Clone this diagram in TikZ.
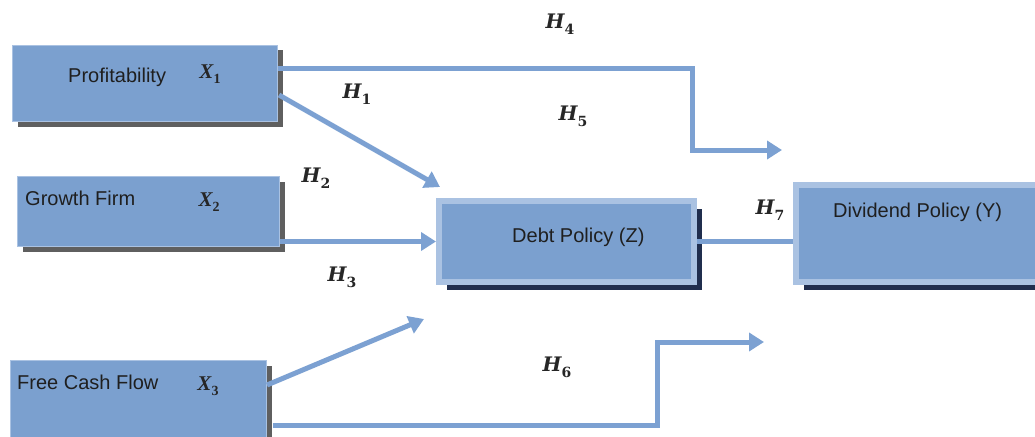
\documentclass[tikz,border=0pt]{standalone}
\usepackage{fontspec}
\setmainfont{Liberation Sans}
\newfontfamily\hypfont{DejaVu Serif}
\newfontfamily\varfont{Liberation Serif}
\usetikzlibrary{arrows.meta,shadows,calc}
\definecolor{boxblue}{RGB}{123,160,207}
\definecolor{rimblue}{RGB}{170,194,226}
\definecolor{arrowblue}{RGB}{124,161,210}
\definecolor{shadowgray}{RGB}{95,95,95}
\definecolor{shadownavy}{RGB}{32,46,78}
\newcommand\hypname[1]{{\hypfont\bfseries\itshape\fontsize{20}{22}\selectfont H}\raisebox{-6pt}{\hypfont\bfseries\fontsize{14}{16}\selectfont #1}}
\newcommand\varname[1]{{\varfont\bfseries\itshape\fontsize{21}{24}\selectfont X}\raisebox{-5pt}{\varfont\bfseries\fontsize{14}{16}\selectfont #1}}
\begin{document}
\begin{tikzpicture}[x=1pt,y=-1pt,
  plainbox/.style={fill=boxblue, draw=rimblue, line width=1pt, inner sep=0pt, outer sep=0.5pt, anchor=north west,
     drop shadow={shadow xshift=5pt, shadow yshift=-5pt, fill=shadowgray, opacity=1}},
  rimbox/.style={fill=boxblue, draw=rimblue, line width=6pt, inner sep=0pt, outer sep=3pt, anchor=north west,
     drop shadow={shadow xshift=8pt, shadow yshift=-8pt, fill=shadownavy, opacity=1}},
  boxtext/.style={font=\fontsize{20}{24}\selectfont, text=black!88, inner sep=0pt, anchor=base west},
  hlabel/.style={inner sep=0pt, text=black!85},
  xlabel/.style={inner sep=0pt, text=black!85},
  conn/.style={draw=arrowblue, line width=5pt, line join=miter},
  tip/.style={-{Triangle[width=18pt,length=15pt]}}
]
\useasboundingbox (0,0) rectangle (1035,436);
\clip (0,0) rectangle (1035,436);

% boxes
\node[plainbox, minimum width=265pt, minimum height=76pt] (prof) at (12,45) {};
\node[plainbox, minimum width=262pt, minimum height=70pt] (grow) at (17,176) {};
\node[plainbox, minimum width=256pt, minimum height=90pt] (fcf) at (10,360) {};
\node[rimbox, minimum width=255pt, minimum height=81pt] (debt) at (436,198) {};
\node[rimbox, minimum width=260pt, minimum height=97pt] (div) at (793,182) {};

% box texts
\node[boxtext] (tprof) at (68,82) {Profitability};
\node[boxtext] (tgrow) at (25,205) {Growth Firm};
\node[boxtext] (tfcf) at (17,389) {Free Cash Flow};
\node[boxtext] (tdebt) at (512,242) {Debt Policy (Z)};
\node[boxtext] (tdiv) at (833,217) {Dividend Policy (Y)};

\node[xlabel] (x1) at (210,74) {\varname{1}};
\node[xlabel] (x2) at (209,202) {\varname{2}};
\node[xlabel] (x3) at (208,386) {\varname{3}};

% connector ends
\coordinate (h4corner) at (692,150);
\coordinate (h4end) at (782,150);
\coordinate (h1end) at (440,187);
\coordinate (h3end) at (424,319);
\coordinate (h6corner) at (657,342);
\coordinate (h6end) at (764,342);

% connectors
\draw[conn,tip] ($(prof.north east)+(0,23)$) -| (h4corner) -- (h4end);
\draw[conn,tip] ($(prof.north east)+(1,50)$) -- (h1end);
\draw[conn,tip] (grow.east |- debt.west) -- (debt.west);
\draw[conn,tip] ($(fcf.north east)+(0,25)$) -- (h3end);
\draw[conn,tip] ($(fcf.north east)+(6,65)$) -| (h6corner) -- (h6end);
\draw[conn] (debt.east) -- (debt.east -| div.west);

% hypothesis labels
\node[hlabel] (h4) at (560,24) {\hypname{4}};
\node[hlabel] (h1) at (357,94) {\hypname{1}};
\node[hlabel] (h5) at (573,116) {\hypname{5}};
\node[hlabel] (h2) at (316,178) {\hypname{2}};
\node[hlabel] (h7) at (770,210) {\hypname{7}};
\node[hlabel] (h3) at (342,277) {\hypname{3}};
\node[hlabel] (h6) at (557,367) {\hypname{6}};
\end{tikzpicture}
\end{document}
